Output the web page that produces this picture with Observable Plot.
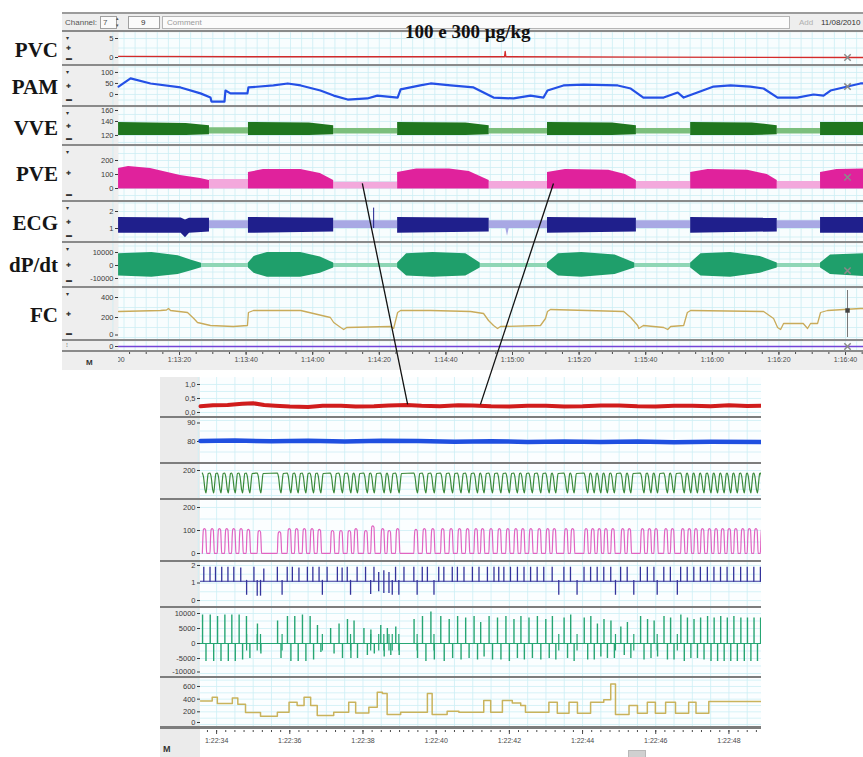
<!DOCTYPE html>
<html>
<head>
<meta charset="utf-8">
<script src="https://cdn.jsdelivr.net/npm/d3@7"></script>
<script src="https://cdn.jsdelivr.net/npm/@observablehq/plot@0.6"></script>
<style>
  html, body { margin: 0; padding: 0; background: #fff; }
  #page { position: relative; width: 863px; height: 757px; overflow: hidden; background: #fff;
          font-family: "Liberation Sans", "DejaVu Sans", sans-serif; }
  .abs { position: absolute; }
  .chan { position: absolute; left: 0; width: 58px; text-align: right; line-height: 22px;
          font-family: "Liberation Serif", "DejaVu Serif", serif; font-weight: bold; font-size: 21px; color: #151515; }
  .tb { position: absolute; font-size: 8px; color: #555; line-height: 11px; white-space: nowrap; }
  .box { position: absolute; border: 1px solid #a0a0a0; background: #fbfbfb; height: 11px; }
  .ctl { position: absolute; left: 66px; font-size: 6px; line-height: 9px; color: #333; }
  svg { display: block; }
</style>
</head>
<body>
<div id="page"></div>
<script>
// ---------------------------------------------------------------------------
// Recording 1: 100 e 300 µg/kg — slow trend view (seconds after 1:13:00)
// ---------------------------------------------------------------------------
const topTimeTicks = [0, 20, 40, 60, 80, 100, 120, 140, 160, 180, 200, 220];

const pvcTop = [[1.7, 0.3], [41, 0.2], [81, 0.2], [117.6, 0.2], [117.8, 1.6], [118.0, 0.2], [161, 0.1], [225.4, 0]];

const pamTop = [
  [1.7, 36], [5.3, 73], [11.3, 50], [20.3, 32], [26.3, 5], [29.3, -14], [29.6, -32], [33.5, -32], [33.8, 18], [35.3, 5],
  [40.4, 5], [40.7, 32], [48.2, 41], [52.5, 50], [56.4, 41], [62.3, 18], [66.3, -5], [70.5, -23], [76.4, -18], [79.4, -5],
  [85.5, -14], [86.4, 23], [92.3, 41], [95.4, 50], [101.4, 41], [108.3, 32], [114.3, -14], [120.3, -18], [125.4, -5], [129.3, -14],
  [130.5, 18], [135.3, 41], [141.3, 45], [151.6, 41], [155.5, 27], [159.3, -14], [165.4, -14], [169.6, 9], [171.4, -14], [175.5, 9],
  [180.4, 36], [185.5, 41], [191.4, 36], [195.4, 27], [199.6, -14], [205.5, -14], [210.4, 0], [213.4, -5], [215.5, 18], [220.6, 36],
  [224.5, 50], [225.4, 50]
];

// [time, low, high] envelopes of the beat-to-beat oscillation: strong phases and weak phases
const vveTopStrong = [
  [[1.7, 120, 138.5], [22, 120, 137], [29.0, 121, 134]],
  [[40.7, 120, 138.5], [59, 120, 138], [66.3, 121, 134]],
  [[85.5, 120, 138.5], [106, 120, 138], [113.0, 121, 134]],
  [[130.5, 120, 138.5], [150, 120, 138], [157.2, 121, 134]],
  [[173.5, 120, 138.5], [192, 120, 138], [199.5, 121, 134]],
  [[212.5, 120, 138.5], [225.4, 120, 138.5]]
];
const vveTopWeak = [
  [[29.0, 122, 131], [40.7, 122, 131]],
  [[66.3, 122, 130], [85.5, 122, 130]],
  [[113.0, 122, 130], [130.5, 122, 130]],
  [[157.2, 122, 130], [173.5, 122, 130]],
  [[199.5, 122, 130], [212.5, 122, 130]]
];

const pveTopStrong = [
  [[1.7, -3, 143], [4.7, -3, 157], [11.3, -3, 143], [20.3, -3, 93], [26.3, -3, 71], [29.0, -3, 57]],
  [[40.7, -3, 114], [45.2, -3, 136], [56.4, -3, 136], [62.3, -3, 107], [66.3, -3, 57]],
  [[85.5, -3, 114], [91.2, -3, 140], [101.1, -3, 140], [107.0, -3, 121], [113.0, -3, 57]],
  [[130.5, -3, 114], [135.9, -3, 136], [148.9, -3, 130], [153.9, -3, 100], [157.2, -3, 57]],
  [[173.5, -3, 114], [178.7, -3, 136], [190.6, -3, 130], [196.5, -3, 100], [199.5, -3, 57]],
  [[212.5, -3, 114], [217.4, -3, 136], [225.4, -3, 140]]
];
const pveTopWeak = [
  [[29.0, -3, 65], [40.7, -3, 65]],
  [[66.3, -3, 45], [85.5, -3, 45]],
  [[113.0, -3, 50], [130.5, -3, 50]],
  [[157.2, -3, 50], [173.5, -3, 50]],
  [[199.5, -3, 50], [212.5, -3, 50]]
];

const ecgTopStrong = [
  [[1.7, 0.72, 1.65], [20.5, 0.72, 1.62], [21.8, 0.45, 1.5], [23, 0.72, 1.6], [29.0, 0.8, 1.6]],
  [[40.7, 0.72, 1.65], [66.3, 0.8, 1.6]],
  [[85.5, 0.72, 1.65], [113.0, 0.8, 1.6]],
  [[130.5, 0.72, 1.65], [157.2, 0.8, 1.6]],
  [[173.5, 0.72, 1.65], [199.5, 0.8, 1.6]],
  [[212.5, 0.72, 1.65], [225.4, 0.72, 1.65]]
];
const ecgTopWeak = [
  [[29.0, 1.0, 1.45], [40.7, 1.0, 1.45]],
  [[66.3, 1.0, 1.45], [85.5, 1.0, 1.45]],
  [[113.0, 1.0, 1.45], [118.0, 1.0, 1.45], [118.5, 0.55, 1.45], [119.0, 1.0, 1.45], [130.5, 1.0, 1.45]],
  [[157.2, 1.0, 1.45], [173.5, 1.0, 1.45]],
  [[199.5, 1.0, 1.45], [212.5, 1.0, 1.45]]
];
const ecgTopSpikes = [[78.3, 1.0, 2.2]];

const dpdtTopStrong = [
  [[1.7, -8000, 9000], [11.7, -9000, 10000], [19.6, -7000, 7500], [23.6, -4000, 4000], [26.6, -1800, 1800]],
  [[40.7, -2000, 2000], [42.4, -6000, 7000], [46.4, -9000, 10000], [56.4, -9000, 10000], [62.3, -6000, 6500], [66.3, -2000, 2000]],
  [[85.5, -2000, 2000], [88.2, -8000, 9000], [96.1, -9000, 10000], [106.0, -8000, 9000], [110.3, -2000, 2000]],
  [[130.5, -2000, 2000], [133.8, -8000, 9000], [140.8, -9000, 10000], [150.8, -7000, 8000], [156.7, -2000, 2000]],
  [[173.5, -2000, 2000], [176.6, -8000, 9000], [185.5, -9000, 10000], [194.4, -6000, 7000], [199.5, -2000, 2000]],
  [[212.5, -2000, 2000], [215.5, -7000, 8000], [225.4, -8500, 9000]]
];
const dpdtTopWeak = [[[1.7, -1500, 1500], [225.4, -1500, 1500]]];

const fcTop = [
  [1.7, 260], [14.3, 270], [16.1, 275], [16.7, 290], [17.3, 270], [22.4, 250], [24.3, 190], [25.4, 150], [29.3, 120], [36.2, 110],
  [40.4, 120], [40.7, 250], [42.2, 270], [56.4, 270], [65.3, 200], [66.3, 150], [68.4, 100], [69.3, 80], [70.2, 100], [83.4, 110],
  [84.3, 90], [85.5, 250], [86.4, 270], [95.4, 270], [107.4, 260], [111.3, 240], [112.8, 170], [114.3, 120], [115.5, 90], [116.4, 110],
  [128.4, 120], [129.9, 190], [130.5, 260], [131.4, 280], [153.4, 260], [155.5, 200], [157.6, 120], [157.9, 90], [159.3, 120], [165.4, 100],
  [166.6, 80], [167.5, 110], [171.4, 120], [172.5, 250], [173.5, 270], [195.4, 260], [198.4, 190], [199.6, 100], [200.5, 80], [201.4, 140],
  [207.3, 140], [208.6, 90], [209.5, 140], [211.6, 140], [212.5, 250], [214.6, 270], [224.5, 290], [225.4, 290]
];
const ch8Top = [[1.7, 0], [225.4, 0]];
const cursorTime = 220.6;

// ---------------------------------------------------------------------------
// Recording 2: detail (seconds after 1:22:00)
// ---------------------------------------------------------------------------
const botTimeTicks = [34, 36, 38, 40, 42, 44, 46, 48];

const pvcBot = [
  [33.56, 0.22], [33.9, 0.26], [34.3, 0.27], [34.7, 0.31], [35.0, 0.33], [35.3, 0.27], [35.6, 0.24], [36.0, 0.21], [36.5, 0.2],
  [36.9, 0.24], [37.4, 0.24], [37.8, 0.21], [38.3, 0.22], [38.7, 0.25], [39.2, 0.27], [39.6, 0.24], [40.1, 0.22], [40.6, 0.26],
  [41.0, 0.25], [41.5, 0.22], [42.0, 0.21], [42.5, 0.24], [43.0, 0.24], [43.5, 0.21], [44.0, 0.22], [44.5, 0.25], [45.0, 0.25],
  [45.5, 0.22], [46.0, 0.21], [46.5, 0.24], [47.0, 0.24], [47.5, 0.22], [48.0, 0.26], [48.5, 0.23], [48.89, 0.24]
];
const pamBot = [[33.56, 80.2], [34.5, 80.5], [35.5, 80.1], [36.5, 80.4], [37.5, 80.0], [38.5, 80.3], [39.5, 80.2], [40.5, 79.9],
  [41.5, 80.1], [42.5, 79.8], [43.5, 80.0], [44.5, 79.8], [45.5, 80.0], [46.5, 79.7], [47.5, 79.9], [48.89, 79.8]];

// ejection onsets: [time, PVE pulse top, dP/dt max, dP/dt min]
const beats = [
  [33.61, 108, 9500, -6000], [33.82, 108, 9500, -6000], [34.02, 108, 9000, -6000], [34.22, 108, 9500, -6000], [34.41, 108, 9500, -6000],
  [34.61, 108, 9500, -5500], [34.81, 105, 9000, -5000], [35.11, 100, 6500, -3500], [35.66, 95, 7500, -5000], [35.93, 108, 9000, -6000],
  [36.13, 108, 9000, -6000], [36.34, 108, 9500, -6000], [36.55, 108, 9000, -5500], [36.75, 105, 6000, -3000], [37.11, 100, 5000, -3500],
  [37.34, 100, 6500, -5000], [37.57, 100, 8000, -5000], [37.75, 108, 7500, -5000], [38.02, 100, 5000, -4000], [38.21, 120, 4500, -3500],
  [38.48, 108, 6000, -4500], [38.66, 100, 5000, -4000], [38.89, 108, 5500, -4000], [39.39, 105, 8000, -5000], [39.62, 108, 9000, -6000],
  [39.85, 108, 10500, -5500], [40.12, 108, 9000, -6000], [40.35, 108, 8000, -5000], [40.58, 108, 9000, -5500], [40.80, 108, 8500, -5000],
  [41.03, 108, 9000, -5500], [41.21, 108, 7000, -4500], [41.44, 108, 9000, -5500], [41.67, 108, 8500, -5500], [41.90, 108, 9000, -6000],
  [42.12, 108, 8000, -5000], [42.31, 108, 9000, -5500], [42.53, 108, 8500, -5000], [42.76, 108, 9000, -5500], [42.99, 108, 8000, -5000],
  [43.17, 108, 9000, -5500], [43.49, 108, 8500, -5000], [43.67, 108, 9500, -6000], [44.04, 108, 8500, -5500], [44.22, 108, 9000, -5500],
  [44.40, 108, 6500, -4500], [44.58, 108, 8000, -5000], [44.77, 108, 7500, -5000], [45.04, 108, 5500, -4000], [45.22, 108, 7000, -5000],
  [45.58, 108, 9000, -5500], [45.77, 108, 8000, -5000], [45.95, 108, 7500, -4500], [46.22, 108, 9000, -5500], [46.40, 108, 8500, -5500],
  [46.68, 108, 9500, -6000], [46.86, 108, 8500, -5000], [47.04, 108, 8000, -5000], [47.22, 108, 8500, -5500], [47.41, 108, 9000, -6000],
  [47.59, 108, 8500, -6000], [47.77, 108, 9000, -6000], [47.95, 108, 8500, -6000], [48.13, 108, 9000, -6000], [48.32, 108, 8500, -6000],
  [48.50, 108, 8500, -6000], [48.68, 108, 8500, -6000], [48.86, 108, 8500, -6000]
];
// ECG deflections: [time, low, high]
const ecgSpikes = [
  [33.65, 1.05, 1.9], [33.82, 1.05, 1.9], [33.97, 1.05, 1.9], [34.14, 1.05, 1.9], [34.31, 1.05, 1.9], [34.47, 1.05, 1.9], [34.66, 1.05, 1.85],
  [34.82, 0.3, 1.15], [35.02, 1.05, 1.9], [35.11, 0.25, 1.15], [35.20, 0.25, 1.15], [35.29, 1.05, 1.8], [35.66, 1.05, 1.9], [35.79, 0.3, 1.15],
  [35.93, 1.05, 1.9], [36.07, 1.05, 1.9], [36.25, 1.05, 1.85], [36.48, 1.05, 1.9], [36.63, 1.05, 1.9], [36.80, 1.05, 1.9], [36.89, 0.3, 1.15],
  [37.02, 1.05, 1.9], [37.30, 1.05, 1.9], [37.43, 1.05, 1.85], [37.57, 1.05, 1.9], [37.66, 0.3, 1.15], [37.84, 1.05, 1.9], [38.07, 1.05, 1.9],
  [38.21, 0.35, 1.15], [38.30, 1.05, 1.9], [38.43, 0.5, 1.6], [38.57, 0.4, 1.7], [38.71, 0.4, 1.6], [38.80, 0.3, 1.15], [38.89, 1.05, 1.9],
  [38.98, 0.3, 1.15], [39.12, 1.05, 1.9], [39.39, 1.05, 1.9], [39.48, 0.3, 1.15], [39.62, 1.05, 1.9], [39.76, 1.05, 1.9], [39.94, 0.3, 1.15],
  [40.07, 1.05, 1.9], [40.21, 1.05, 1.9], [40.44, 1.05, 1.9], [40.58, 1.05, 1.9], [40.76, 1.05, 1.9], [40.99, 1.05, 1.9], [41.17, 1.05, 1.9],
  [41.40, 1.05, 1.9], [41.58, 1.05, 1.9], [41.71, 1.05, 1.9], [41.85, 1.05, 1.9], [42.03, 1.05, 1.9], [42.22, 1.05, 1.9], [42.40, 1.05, 1.9],
  [42.58, 1.05, 1.9], [42.76, 1.05, 1.9], [42.94, 1.05, 1.9], [43.17, 1.05, 1.9], [43.35, 0.3, 1.15], [43.49, 1.05, 1.9], [43.67, 1.05, 1.9],
  [43.85, 0.3, 1.15], [44.04, 1.05, 1.9], [44.22, 1.05, 1.9], [44.40, 1.05, 1.9], [44.58, 1.05, 1.9], [44.77, 1.05, 1.9], [44.90, 0.3, 1.15],
  [45.04, 1.05, 1.9], [45.22, 1.05, 1.9], [45.40, 0.3, 1.15], [45.58, 1.05, 1.9], [45.77, 1.05, 1.9], [45.95, 1.05, 1.9], [46.04, 0.3, 1.15],
  [46.22, 1.05, 1.9], [46.40, 1.05, 1.9], [46.59, 0.3, 1.15], [46.68, 1.05, 1.9], [46.86, 1.05, 1.9], [47.04, 1.05, 1.9], [47.22, 1.05, 1.9],
  [47.41, 1.05, 1.9], [47.59, 1.05, 1.9], [47.77, 1.05, 1.9], [47.95, 1.05, 1.9], [48.13, 1.05, 1.9], [48.32, 1.05, 1.9], [48.50, 1.05, 1.9],
  [48.68, 1.05, 1.9], [48.86, 1.05, 1.9]
];

// heart rate, held between beats: [time, bpm]
const fcBot = [
  [33.56, 370], [33.88, 430], [34.02, 330], [34.43, 420], [34.58, 320], [34.79, 190], [35.20, 131], [35.66, 195], [35.98, 352], [36.20, 300],
  [36.39, 430], [36.57, 300], [36.75, 142], [37.20, 194], [37.61, 352], [37.80, 180], [38.16, 274], [38.39, 510], [38.53, 489], [38.66, 158],
  [39.03, 194], [39.76, 489], [39.89, 158], [40.30, 210], [40.62, 194], [41.30, 379], [41.49, 194], [41.81, 379], [42.08, 340], [42.31, 300],
  [42.44, 194], [43.08, 352], [43.31, 179], [43.63, 352], [43.86, 179], [44.22, 352], [44.58, 390], [44.77, 640], [44.90, 158], [45.27, 300],
  [45.50, 179], [45.77, 352], [45.99, 179], [46.27, 352], [46.54, 179], [46.90, 352], [47.10, 179], [47.45, 363], [48.89, 363]
];

// connectors from the trend view down to the detail view
const zoomLinks = [
  {from: [74.9, 36], to: [39.22, 0.29]},
  {from: [132.3, 36], to: [41.21, 0.29]}
];

// ---------------------------------------------------------------------------
// drawing
// ---------------------------------------------------------------------------
const page = document.getElementById("page");
const clock = base => s => {
  const v = Math.round(base + s);
  const h = Math.floor(v / 3600), m = Math.floor((v % 3600) / 60), sec = v % 60;
  return `${h}:${String(m).padStart(2, "0")}:${String(sec).padStart(2, "0")}`;
};
const topClock = clock(1 * 3600 + 13 * 60);
const botClock = clock(1 * 3600 + 22 * 60);
const comma1 = d => d.toFixed(1).replace(".", ",");

function div(left, top, width, height, css = "", html = "") {
  const d = document.createElement("div");
  d.className = "abs";
  Object.assign(d.style, {left: left + "px", top: top + "px", width: width + "px", height: height + "px"});
  d.style.cssText += css;
  d.innerHTML = html;
  page.appendChild(d);
  return d;
}
function place(node, left, top) {
  const d = div(left, top, node.getAttribute("width"), node.getAttribute("height"));
  d.appendChild(node);
  return d;
}
const bands = segs => segs.flatMap((seg, i) => seg.map(([t, lo, hi]) => ({t, lo, hi, s: i})));

const FONT = "'Liberation Sans', 'DejaVu Sans', sans-serif";

// one channel strip; edge = [tick value, vertical nudge] for a label sitting on the strip border
function strip({width, ml, h, xd, yd, ticks, fmt, edge, xgrid, ystep, bg, gridColor, marks}) {
  const ygrid = d3.range(Math.ceil(yd[0] / ystep) * ystep, yd[1], ystep);
  const inner = edge ? ticks.filter(t => t !== edge[0]) : ticks;
  return Plot.plot({
    width, height: h, marginLeft: ml, marginRight: 0, marginTop: 0, marginBottom: 0,
    style: {background: "transparent", fontFamily: FONT, fontSize: "7.5px", color: "#3a3a3a"},
    x: {domain: xd, axis: null},
    y: {domain: yd},
    marks: [
      Plot.frame({fill: bg, stroke: "none"}),
      Plot.ruleX(xgrid, {stroke: gridColor, strokeWidth: 0.8}),
      Plot.ruleY(ygrid, {stroke: gridColor, strokeWidth: 0.8}),
      Plot.axisY(inner, {tickFormat: fmt, tickSize: 3, tickPadding: 2, label: null}),
      edge ? Plot.axisY([edge[0]], {tickFormat: fmt, tickSize: 3, tickPadding: 2, label: null, dy: edge[1]}) : null,
      ...marks
    ]
  });
}

// ----- trend window ---------------------------------------------------------
const TOP = {left: 62, width: 801, ml: 56, xd: [1.68, 225.4]};
div(62, 12, 801, 358, "background:#eeeeee;");
div(62, 12, 801, 2, "background:#9b9b9b;");
div(62, 30, 801, 2, "background:#8a8a8a;");
page.insertAdjacentHTML("beforeend", `
  <div class="tb" style="left:65px;top:17px;">Channel:</div>
  <div class="box" style="left:100px;top:16px;width:15px;"></div>
  <div class="tb" style="left:103px;top:17px;">7</div>
  <div class="tb" style="left:116px;top:15px;font-size:5px;line-height:7px;">▴<br>▾</div>
  <div class="box" style="left:128px;top:16px;width:30px;"></div>
  <div class="tb" style="left:141px;top:17px;color:#333;">9</div>
  <div class="box" style="left:162px;top:16px;width:626px;border-color:#b5b5b5;"></div>
  <div class="tb" style="left:167px;top:17px;color:#9a9a9a;">Comment</div>
  <div class="tb" style="left:799px;top:17px;color:#b0b0b0;">Add</div>
  <div class="tb" style="left:821px;top:17px;color:#333;">11/08/2010</div>
`);

const topGridX = d3.range(0, 226, 10 / 3);
const xDot = (data, opts) => Plot.dot(data, {x: d => d[0], y: d => d[1], ...opts});
const topRows = [
  {key: "PVC", top: 32, h: 32, yd: [-1.84, 6.58], ticks: [0, 5], ystep: 2.5,
   marks: [Plot.line(pvcTop, {x: d => d[0], y: d => d[1], stroke: "#d42a2a", strokeWidth: 1.3}),
           xDot([[cursorTime, 0]], {symbol: "times", r: 3, stroke: "#8a8a8a"})]},
  {key: "PAM", top: 66, h: 39, yd: [-50, 127], ticks: [0, 50, 100], ystep: 25,
   marks: [Plot.line(pamTop, {x: d => d[0], y: d => d[1], stroke: "#2450e6", strokeWidth: 2.2}),
           xDot([[cursorTime, 36]], {symbol: "times", r: 3, stroke: "#8a8a8a"})]},
  {key: "VVE", top: 107, h: 37, yd: [107.1, 160], ticks: [120, 140, 160], edge: [160, 3], ystep: 10,
   marks: [Plot.areaY(bands(vveTopWeak), {x: "t", y1: "lo", y2: "hi", z: "s", fill: "#7cbf7c"}),
           Plot.areaY(bands(vveTopStrong), {x: "t", y1: "lo", y2: "hi", z: "s", fill: "#1f761f"})]},
  {key: "PVE", top: 146, h: 54, yd: [-85.7, 300], ticks: [0, 100, 200], ystep: 50,
   marks: [Plot.areaY(bands(pveTopWeak), {x: "t", y1: "lo", y2: "hi", z: "s", fill: "#f3a8dc"}),
           Plot.areaY(bands(pveTopStrong), {x: "t", y1: "lo", y2: "hi", z: "s", fill: "#e0229c"}),
           xDot([[cursorTime, 80]], {symbol: "times", r: 3, stroke: "#8a8a8a"})]},
  {key: "ECG", top: 202, h: 39, yd: [0.235, 2.53], ticks: [1, 2], ystep: 0.5,
   marks: [Plot.areaY(bands(ecgTopWeak), {x: "t", y1: "lo", y2: "hi", z: "s", fill: "#a8a8e4"}),
           Plot.areaY(bands(ecgTopStrong), {x: "t", y1: "lo", y2: "hi", z: "s", fill: "#1f1f8c"}),
           Plot.ruleX(ecgTopSpikes, {x: d => d[0], y1: d => d[1], y2: d => d[2], stroke: "#1f1f8c", strokeWidth: 1})]},
  {key: "dPdt", top: 243, h: 43, yd: [-16154, 16923], ticks: [-10000, 0, 10000], ystep: 5000,
   marks: [Plot.areaY(bands(dpdtTopWeak), {x: "t", y1: "lo", y2: "hi", z: "s", fill: "#8fd6b6"}),
           Plot.areaY(bands(dpdtTopStrong), {x: "t", y1: "lo", y2: "hi", z: "s", fill: "#1f9f6b"}),
           xDot([[cursorTime, -4000]], {symbol: "times", r: 3, stroke: "#8a8a8a"})]},
  {key: "FC", top: 288, h: 51, yd: [-20, 490], ticks: [0, 200, 400], edge: [0, -2.5], ystep: 100,
   marks: [Plot.line(fcTop, {x: d => d[0], y: d => d[1], stroke: "#c9ab5a", strokeWidth: 1.3}),
           Plot.ruleX([cursorTime], {y1: 0, y2: 470, stroke: "#777", strokeWidth: 1}),
           xDot([[cursorTime, 270]], {symbol: "square", r: 2.5, fill: "#444"})]},
  {key: "C8", top: 341, h: 9, yd: [-1, 1.25], ticks: [0], ystep: 5,
   marks: [Plot.line(ch8Top, {x: d => d[0], y: d => d[1], stroke: "#7446d8", strokeWidth: 1.6}),
           xDot([[cursorTime, 0]], {symbol: "times", r: 3, stroke: "#8a8a8a"})]}
];
const topPlots = {};
for (const r of topRows) {
  const svg = strip({width: TOP.width, ml: TOP.ml, h: r.h, xd: TOP.xd, yd: r.yd, ticks: r.ticks, fmt: d => String(d), edge: r.edge,
    xgrid: topGridX, ystep: r.ystep, bg: "#f8fdfe", gridColor: "#cdeef4", marks: r.marks});
  place(svg, TOP.left, r.top);
  topPlots[r.key] = svg;
  div(62, r.top + r.h, 801, 2, "background:#8a8a8a;");
  // scale buttons in the left column
  page.insertAdjacentHTML("beforeend",
    r.h > 20 ? `<div class="ctl" style="top:${r.top + 2}px">▾</div>
                <div class="ctl" style="top:${r.top + r.h / 2 - 4}px">✚</div>
                <div class="ctl" style="top:${r.top + r.h - 10}px">▬</div>`
             : `<div class="ctl" style="top:${r.top}px">⁝</div>`);
}
// time axis of the trend window
const topAxis = Plot.plot({
  width: TOP.width, height: 18, marginLeft: TOP.ml, marginRight: 0, marginTop: 0, marginBottom: 17,
  style: {background: "transparent", fontFamily: FONT, fontSize: "7px", color: "#4a4a4a"},
  x: {domain: TOP.xd},
  marks: [
    Plot.axisX(d3.range(0, 226, 5), {tickSize: 2, fill: "none"}),
    Plot.axisX(topTimeTicks, {tickSize: 3, tickPadding: 2, tickFormat: topClock})
  ]
});
place(topAxis, TOP.left, 351);
div(62, 352, 56, 18, "background:#eeeeee;font:bold 8px sans-serif;color:#333;", "<span style='position:absolute;left:24px;top:6px;line-height:10px'>M</span>");

// channel names and title
const chanNames = [["PVC", 50], ["PAM", 87], ["VVE", 128], ["PVE", 174], ["ECG", 223], ["dP/dt", 265], ["FC", 315]];
for (const [name, yc] of chanNames) div(0, yc - 11, 58, 22, "", name).className = "chan";
div(405, 21, 160, 24, "font-family:'Liberation Serif','DejaVu Serif',serif;font-weight:bold;font-size:19px;line-height:22px;color:#111;white-space:nowrap;", "100 e 300 µg/kg");

// ----- detail window --------------------------------------------------------
const BOT = {left: 160, width: 601, ml: 40, xd: [33.56, 48.89]};
div(160, 377, 40, 380, "background:#ebebeb;");
const botGridX = d3.range(33.5, 49, 0.5);

// beat-by-beat traces drawn from the ejection onsets
const pveLine = beats.flatMap(([t, top]) => [[t, 1], [t + 0.015, 70], [t + 0.03, top - 4], [t + 0.06, top], [t + 0.09, top - 6], [t + 0.105, 50], [t + 0.118, 1]]);
const vveLine = beats.flatMap(([t]) => [[t, 190], [t + 0.03, 176], [t + 0.075, 122], [t + 0.1, 110], [t + 0.13, 150], [t + 0.16, 188]]);
const dpdtUp = beats.map(([t, , hi]) => [t + 0.006, hi]);
const dpdtDown = beats.map(([t, , , lo]) => [t + 0.1, lo]);
const dpdtExtra = ecgSpikes.filter(d => d[1] < 1).map(([t]) => [t, -2500, 3000]);

const botRows = [
  {key: "PVC", top: 377, h: 39, yd: [-0.143, 1.25], ticks: [0, 0.5, 1], fmt: comma1, ystep: 0.25,
   marks: [Plot.line(pvcBot, {x: d => d[0], y: d => d[1], stroke: "#d01c1c", strokeWidth: 4})]},
  {key: "PAM", top: 418, h: 44, yd: [70, 90.95], ticks: [80, 90], edge: [90, 2.5], fmt: d => String(d), ystep: 5,
   marks: [Plot.line(pamBot, {x: d => d[0], y: d => d[1], stroke: "#1f4fe0", strokeWidth: 4.5})]},
  {key: "VVE", top: 464, h: 34, yd: [88, 224], ticks: [200], fmt: d => String(d), ystep: 25,
   marks: [Plot.line(vveLine, {x: d => d[0], y: d => d[1], stroke: "#3a8a3a", strokeWidth: 1.2, curve: "monotone-x"})]},
  {key: "PVE", top: 500, h: 60, yd: [-30.4, 230.4], ticks: [0, 100, 200], fmt: d => String(d), ystep: 50,
   marks: [Plot.line(pveLine, {x: d => d[0], y: d => d[1], stroke: "#e064c2", strokeWidth: 1.2, curve: "monotone-x"})]},
  {key: "ECG", top: 562, h: 44, yd: [-0.34, 2.17], ticks: [0, 1, 2], fmt: d => String(d), ystep: 0.5,
   marks: [Plot.ruleY([1.1], {stroke: "#34349c", strokeWidth: 1.2}),
           Plot.ruleX(ecgSpikes, {x: d => d[0], y1: d => d[1], y2: d => d[2], stroke: "#34349c", strokeWidth: 1.3})]},
  {key: "dPdt", top: 608, h: 68, yd: [-11000, 11667], ticks: [-10000, -5000, 0, 5000, 10000], edge: [-10000, -1.5], fmt: d => String(d), ystep: 2500,
   marks: [Plot.ruleY([0], {stroke: "#26a673", strokeWidth: 1.2}),
           Plot.ruleX(dpdtExtra, {x: d => d[0], y1: d => d[1], y2: d => d[2], stroke: "#26a673", strokeWidth: 1.2}),
           Plot.ruleX(dpdtUp, {x: d => d[0], y1: 0, y2: d => d[1], stroke: "#26a673", strokeWidth: 1.4}),
           Plot.ruleX(dpdtDown, {x: d => d[0], y1: 0, y2: d => d[1], stroke: "#26a673", strokeWidth: 1.4})]},
  {key: "FC", top: 678, h: 48, yd: [-31.6, 726], ticks: [0, 200, 400, 600], edge: [0, -2], fmt: d => String(d), ystep: 100,
   marks: [Plot.line(fcBot, {x: d => d[0], y: d => d[1], stroke: "#c9b35c", strokeWidth: 1.5, curve: "step-after"})]}
];
const botPlots = {};
for (const r of botRows) {
  const svg = strip({width: BOT.width, ml: BOT.ml, h: r.h, xd: BOT.xd, yd: r.yd, ticks: r.ticks, fmt: r.fmt, edge: r.edge,
    xgrid: botGridX, ystep: r.ystep, bg: "#fbfeff", gridColor: "#cdeff5", marks: r.marks});
  place(svg, BOT.left, r.top);
  botPlots[r.key] = svg;
  div(160, r.top + r.h, 601, r.key === "FC" ? 3 : 2, "background:#7d7d7d;");
}
const botAxis = Plot.plot({
  width: BOT.width, height: 27, marginLeft: BOT.ml, marginRight: 0, marginTop: 0, marginBottom: 25,
  style: {background: "transparent", fontFamily: FONT, fontSize: "7px", color: "#4a4a4a"},
  x: {domain: BOT.xd},
  marks: [
    Plot.axisX(d3.range(33.75, 49, 0.25), {tickSize: 2, fill: "none"}),
    Plot.axisX(botTimeTicks, {tickSize: 4, tickPadding: 4, tickFormat: botClock})
  ]
});
place(botAxis, BOT.left, 728);
div(163, 743, 12, 13, "font:bold 9px sans-serif;line-height:12px;color:#333;", "M");
div(628, 750, 16, 7, "background:#d0d0d0;border:1px solid #b8b8b8;");

// ----- connectors -----------------------------------------------------------
const tx = topPlots.PVE.scale("x"), ty = topPlots.PVE.scale("y");
const bx = botPlots.PVC.scale("x"), by = botPlots.PVC.scale("y");
const links = zoomLinks.map(({from, to}) => ({
  x1: TOP.left + tx.apply(from[0]), y1: 146 + ty.apply(from[1]),
  x2: BOT.left + bx.apply(to[0]), y2: 377 + by.apply(to[1])
}));
const overlay = Plot.plot({
  width: 863, height: 757, margin: 0,
  style: {background: "transparent"},
  x: {type: "identity", axis: null}, y: {type: "identity", axis: null},
  marks: [Plot.link(links, {x1: "x1", y1: "y1", x2: "x2", y2: "y2", stroke: "#111", strokeWidth: 1.3})]
});
const ov = place(overlay, 0, 0);
ov.style.pointerEvents = "none";
</script>
</body>
</html>
